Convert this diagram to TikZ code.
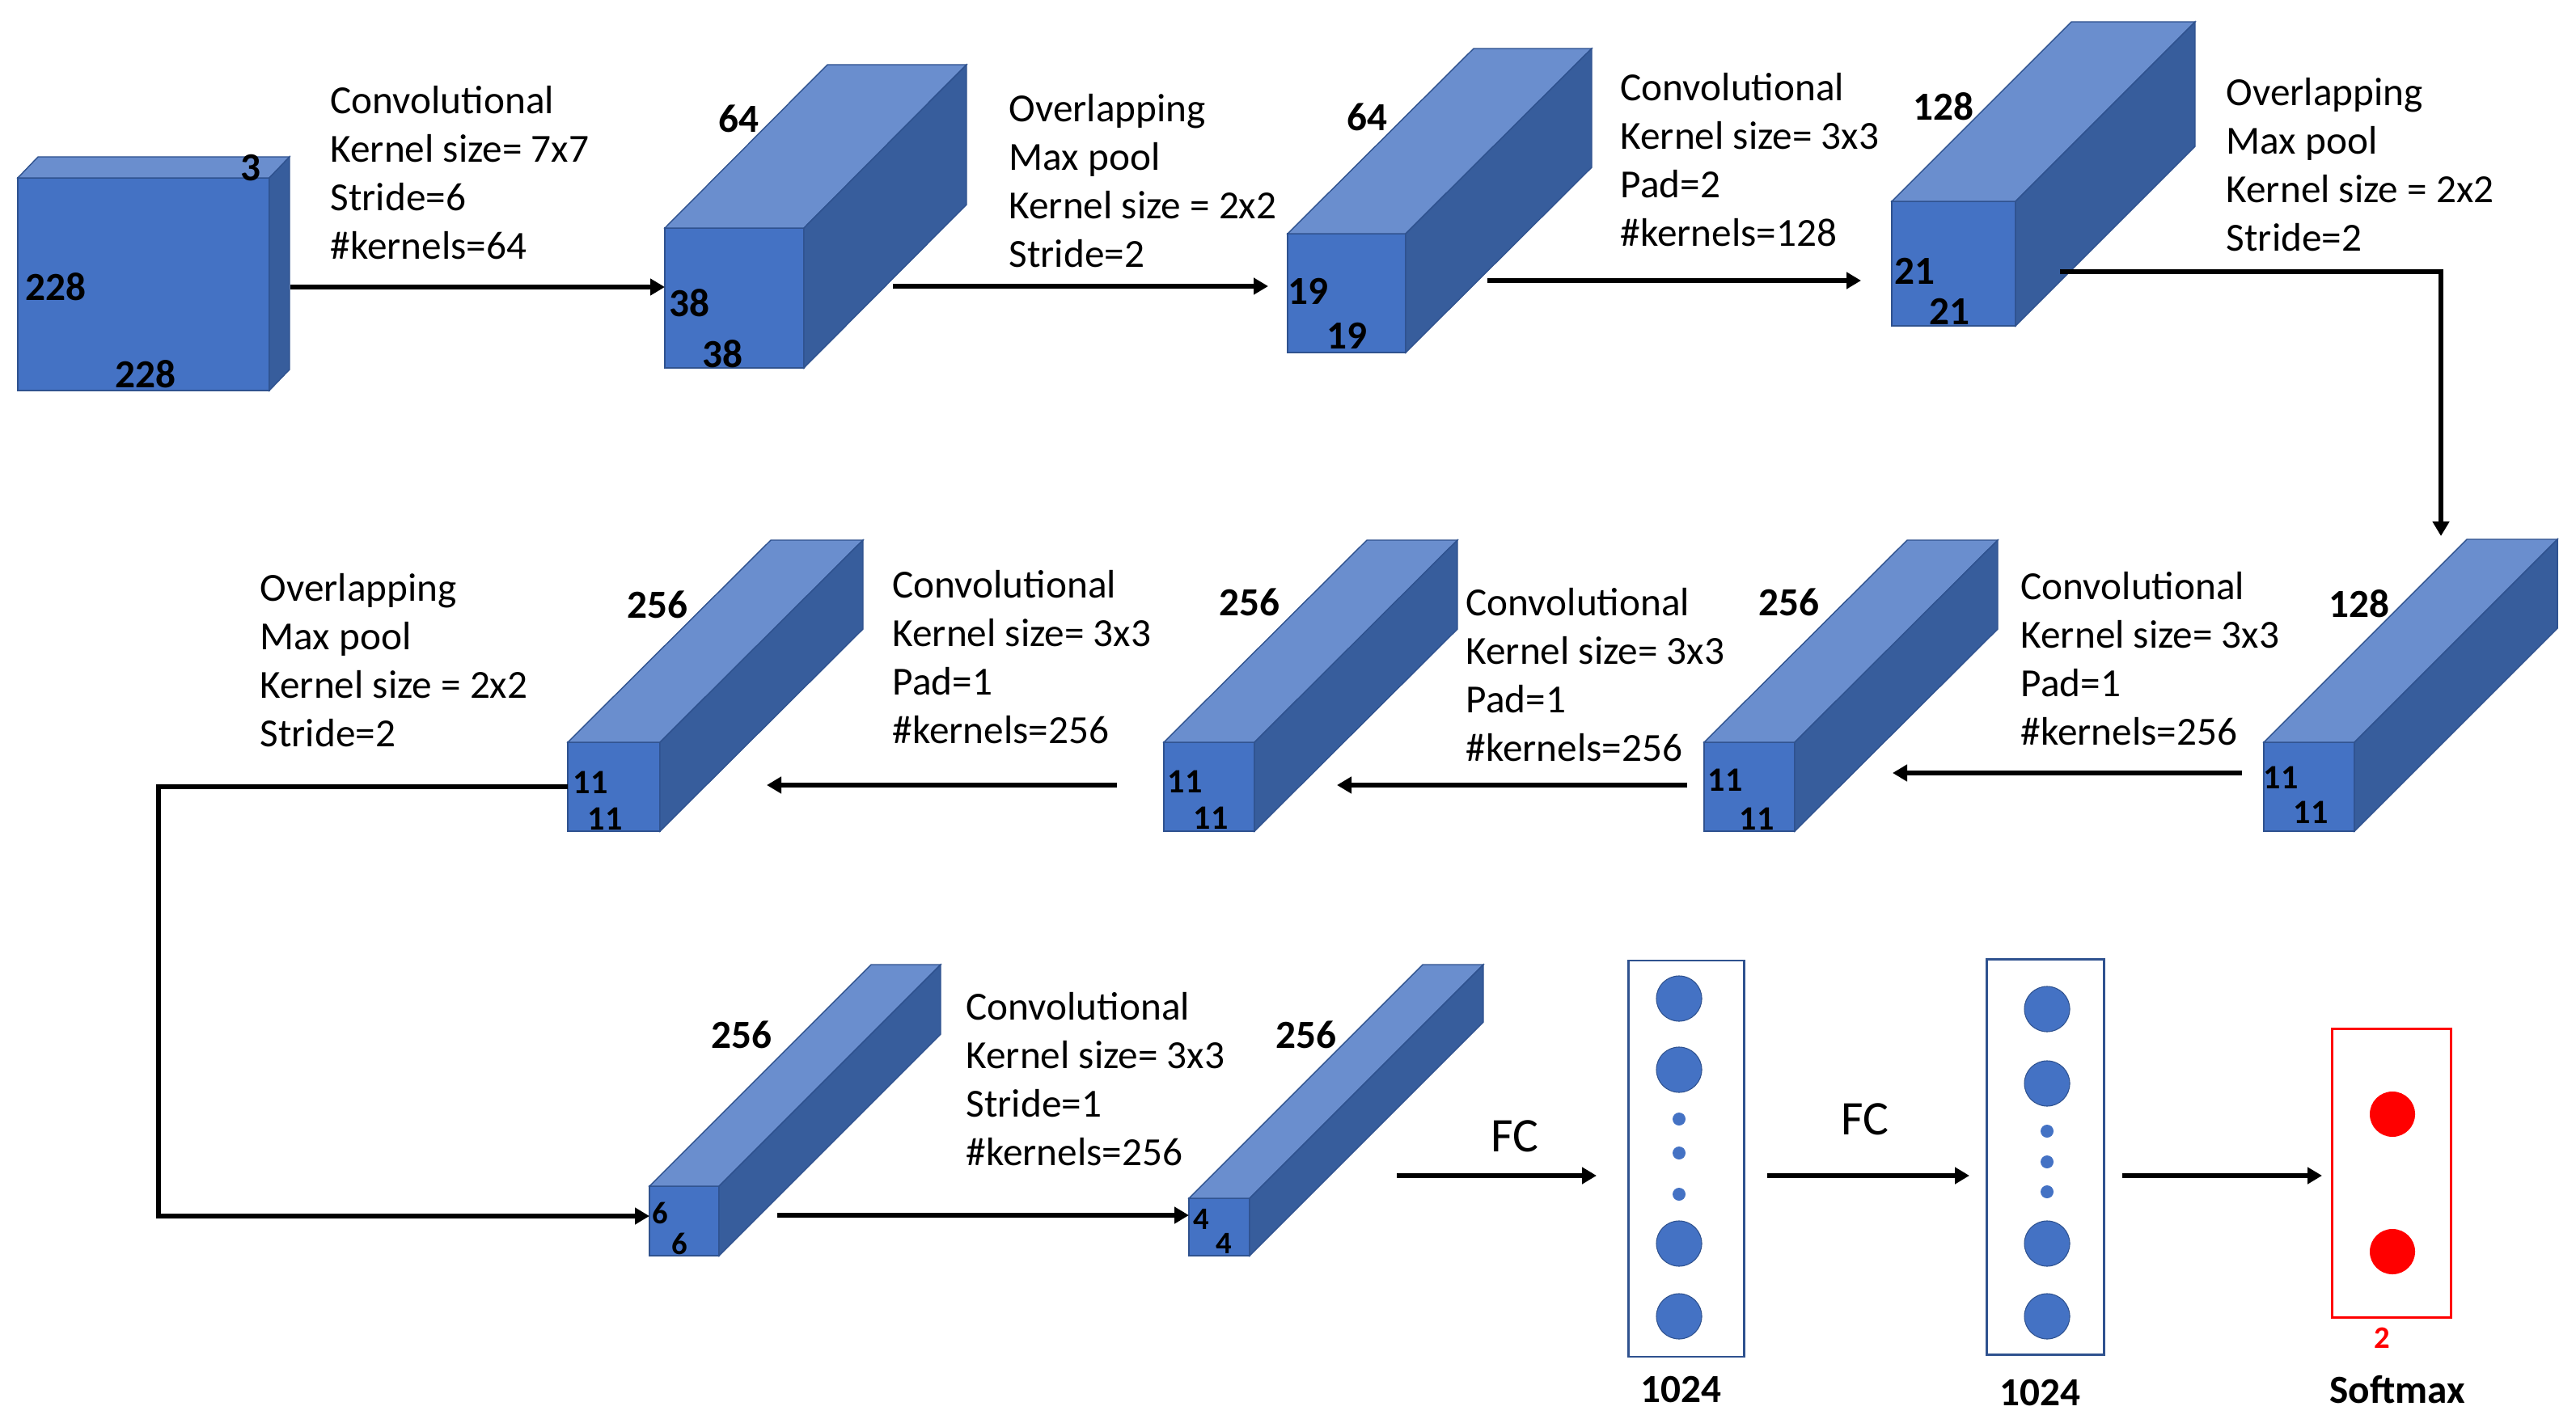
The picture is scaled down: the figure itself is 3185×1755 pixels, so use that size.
\documentclass[tikz,border=0pt]{standalone}
\usepackage{fontspec}
\setmainfont{Carlito}
\usepackage{xcolor}
\usetikzlibrary{positioning, arrows.meta}

\definecolor{fmfront}{HTML}{4472C4}
\definecolor{fmtop}{HTML}{6A8ECE}
\definecolor{fmside}{HTML}{375D9C}
\definecolor{fmedge}{HTML}{2F528F}

\tikzset{
  front/.style={draw=fmedge, fill=fmfront, line width=0.4pt, inner sep=0pt, outer sep=0pt},
  topf/.style={draw=fmedge, fill=fmtop, line width=0.4pt},
  sidef/.style={draw=fmedge, fill=fmside, line width=0.4pt},
  dim/.style={font=\fontsize{14}{17}\selectfont\bfseries, inner sep=0pt},
  dimm/.style={font=\fontsize{12}{14}\selectfont\bfseries, inner sep=0pt},
  dims/.style={font=\fontsize{11}{13}\selectfont\bfseries, inner sep=0pt},
  txt/.style={anchor=north west, align=left, inner sep=0pt, font=\fontsize{14}{17}\selectfont},
  fclab/.style={font=\fontsize{17}{20}\selectfont, inner sep=0pt},
  arr/.style={-{Triangle[width=0.2cm, length=0.18cm]}, line width=1.5pt},
  fcbox/.style={draw=fmedge, line width=0.7pt, inner sep=0pt, outer sep=0pt},
  neuron/.style={circle, fill=fmfront, draw=fmedge, line width=0.3pt, minimum size=0.56cm, inner sep=0pt},
  dot/.style={circle, fill=fmfront, minimum size=0.16cm, inner sep=0pt},
  outn/.style={circle, fill=red, minimum size=0.56cm, inner sep=0pt}
}

% feature map: name, left x, bottom y, width, height, dx, dy (px)
\newcommand{\fmap}[7]{%
  \node[front, minimum width=#4*0.01cm, minimum height=#5*0.01cm, anchor=south west] (#1) at (#2,#3) {};
  \filldraw[topf] (#1.north west) -- ++(#6,-#7) -- ++(#4,0) -- (#1.north east) -- cycle;
  \filldraw[sidef] (#1.north east) -- ++(#6,-#7) -- ++(0,#5) -- (#1.south east) -- cycle;
}

\begin{document}
\begin{tikzpicture}[x=0.01cm, y=-0.01cm]
  \useasboundingbox (0,0) rectangle (3185,1755);

  % row 1
  \fmap{img}{22}{483}{311}{263}{25}{26}
  \fmap{conv1}{822}{455}{172}{173}{201}{202}
  \fmap{pool1}{1592}{436}{146}{147}{230}{229}
  \fmap{conv2}{2339}{403}{153}{154}{222}{222}

  % row 2
  \fmap{pool2}{2799}{1028}{112}{110}{251}{251}
  \fmap{conv3}{2107}{1028}{112}{110}{251}{250}
  \fmap{conv4}{1439}{1028}{112}{110}{251}{250}
  \fmap{conv5}{702}{1028}{114}{110}{251}{250}

  % row 3
  \fmap{pool3}{803}{1553}{86}{86}{274}{274}
  \fmap{conv6}{1470}{1553}{75}{71}{289}{289}

  % sizes
  \node[dim] (imgd) at (310,208) {3};
  \node[dim] (imgh) at (69,355) {228};
  \node[dim] (imgw) at (180,463) {228};
  \node[dim] (conv1d) at (913,147) {64};
  \node[dim] (conv1h) at (852,375) {38};
  \node[dim] (conv1w) at (893,438) {38};
  \node[dim] (pool1d) at (1690,145) {64};
  \node[dim] (pool1h) at (1617,360) {19};
  \node[dim] (pool1w) at (1665,415) {19};
  \node[dim] (conv2d) at (2403,132) {128};
  \node[dim] (conv2h) at (2367,335) {21};
  \node[dim] (conv2w) at (2410,385) {21};
  \node[dim] (pool2d) at (2917,747) {128};
  \node[dimm] (pool2h) at (2820,962) {11};
  \node[dimm] (pool2w) at (2857,1005) {11};
  \node[dim] (conv3d) at (2212,745) {256};
  \node[dimm] (conv3h) at (2133,965) {11};
  \node[dimm] (conv3w) at (2172,1013) {11};
  \node[dim] (conv4d) at (1545,745) {256};
  \node[dimm] (conv4h) at (1465,967) {11};
  \node[dimm] (conv4w) at (1497,1012) {11};
  \node[dim] (conv5d) at (813,748) {256};
  \node[dimm] (conv5h) at (730,968) {11};
  \node[dimm] (conv5w) at (748,1013) {11};
  \node[dim] (pool3d) at (917,1280) {256};
  \node[dims] (pool3h) at (816,1500) {6};
  \node[dims] (pool3w) at (840,1538) {6};
  \node[dim] (conv6d) at (1615,1280) {256};
  \node[dims] (conv6h) at (1485,1508) {4};
  \node[dims] (conv6w) at (1513,1538) {4};

  % layer descriptions
  \node[txt] (t1) at (408,106) {Convolutional\\Kernel size= 7x7\\Stride=6\\\#kernels=64};
  \node[txt] (t2) at (1247,116) {Overlapping\\Max pool\\Kernel size = 2x2\\Stride=2};
  \node[txt] (t3) at (2003,90) {Convolutional\\Kernel size= 3x3\\Pad=2\\\#kernels=128};
  \node[txt] (t4) at (2752,96) {Overlapping\\Max pool\\Kernel size = 2x2\\Stride=2};
  \node[txt] (t5) at (321,709) {Overlapping\\Max pool\\Kernel size = 2x2\\Stride=2};
  \node[txt] (t6) at (1103,705) {Convolutional\\Kernel size= 3x3\\Pad=1\\\#kernels=256};
  \node[txt] (t7) at (1812,727) {Convolutional\\Kernel size= 3x3\\Pad=1\\\#kernels=256};
  \node[txt] (t8) at (2498,707) {Convolutional\\Kernel size= 3x3\\Pad=1\\\#kernels=256};
  \node[txt] (t9) at (1194,1227) {Convolutional\\Kernel size= 3x3\\Stride=1\\\#kernels=256};

  % fully connected part
  \node[fcbox, minimum width=143*0.01cm, minimum height=490*0.01cm] (fca) at (2085,1433) {};
  \node[fcbox, minimum width=145*0.01cm, minimum height=489*0.01cm] (fcb) at (2529,1431) {};
  \node[fcbox, draw=red, minimum width=147*0.01cm, minimum height=357*0.01cm] (soft) at (2957,1451) {};
  \foreach \y in {1235,1323,1538,1628} \node[neuron] (fca-\y) at (2076,\y) {};
  \foreach \y in {1384,1426,1477} \node[dot] (fcad-\y) at (2076,\y) {};
  \foreach \y in {1248,1340,1538,1628} \node[neuron] (fcb-\y) at (2531,\y) {};
  \foreach \y in {1399,1437,1474} \node[dot] (fcbd-\y) at (2531,\y) {};
  \foreach \y in {1378,1548} \node[outn] (soft-\y) at (2958,\y) {};
  \node[dim] (fcan) at (2078,1719) {1024};
  \node[dim] (fcbn) at (2522,1723) {1024};
  \node[dims, text=red] (softn) at (2945,1655) {2};
  \node[dim] (softl) at (2964,1719) {Softmax};
  \node[fclab] (fcl1) at (1873,1405) {FC};
  \node[fclab] (fcl2) at (2306,1384) {FC};

  % connectors
  \coordinate (imgout) at (359,355);
  \coordinate (conv1out) at (1104,354);
  \coordinate (pool1in) at (1568,354);
  \coordinate (pool1out) at (1839,347);
  \coordinate (conv2in) at (2301,347);
  \coordinate (conv2out) at (2547,336);
  \coordinate (pool2in) at (3018,663);
  \coordinate (pool2out) at (2772,956);
  \coordinate (conv3in) at (2340,956);
  \coordinate (conv3out) at (2086,971);
  \coordinate (conv4in) at (1653,971);
  \coordinate (conv4out) at (1381,971);
  \coordinate (conv5in) at (948,971);
  \coordinate (pool3out) at (961,1503);
  \coordinate (conv6out) at (1727,1454);
  \coordinate (fcain) at (1974,1454);
  \coordinate (fcaout) at (2185,1454);
  \coordinate (fcbin) at (2435,1454);
  \coordinate (fcbout) at (2624,1454);
  \coordinate (softin) at (2871,1454);

  \draw[arr] (imgout) -- (imgout -| conv1.west);
  \draw[arr] (conv1out) -- (pool1in);
  \draw[arr] (pool1out) -- (conv2in);
  \draw[arr] (conv2out) -| (pool2in);
  \draw[arr] (pool2out) -- (conv3in);
  \draw[arr] (conv3out) -- (conv4in);
  \draw[arr] (conv4out) -- (conv5in);
  \draw[arr] (conv5.west) -- ++(-506,0) |- ([yshift=0.06cm]pool3.west);
  \draw[arr] (pool3out) -- (pool3out -| conv6.west);
  \draw[arr] (conv6out) -- (fcain);
  \draw[arr] (fcaout) -- (fcbin);
  \draw[arr] (fcbout) -- (softin);
\end{tikzpicture}
\end{document}
